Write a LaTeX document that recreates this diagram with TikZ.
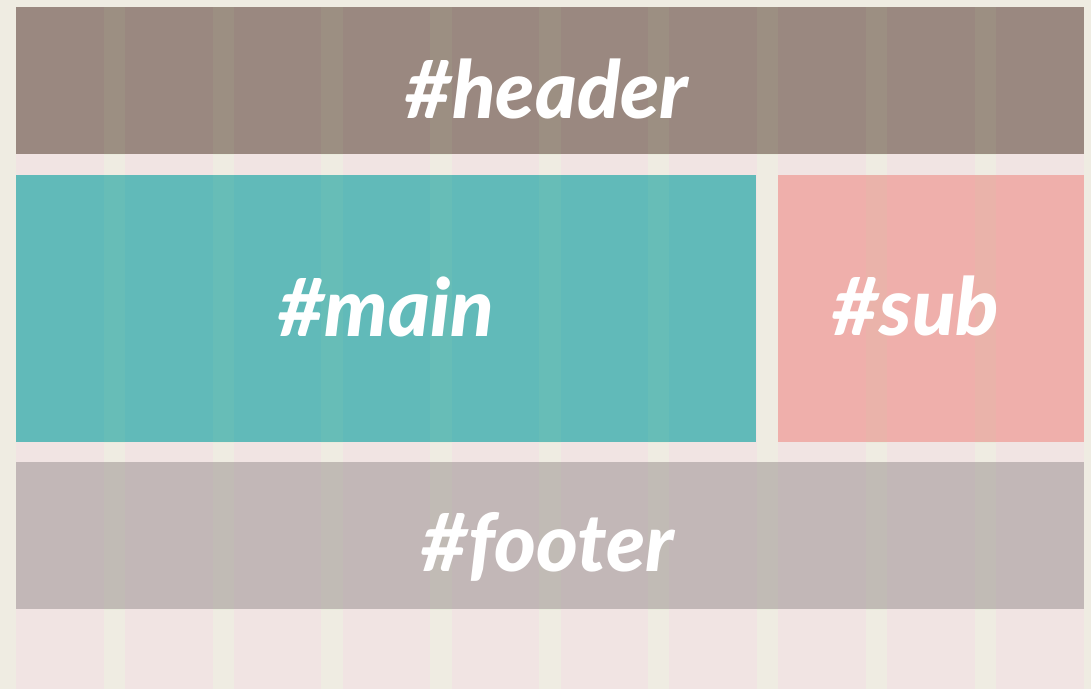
\documentclass[tikz,border=0pt]{standalone}
\usepackage{fontspec}
\setsansfont{Lato}[BoldItalicFont={Lato Black Italic}]
\usetikzlibrary{positioning}
\definecolor{cream}{RGB}{239,236,226}
\definecolor{blush}{RGB}{241,228,227}
\definecolor{mocha}{RGB}{154,136,128}
\definecolor{mainteal}{RGB}{97,186,185}
\definecolor{subpink}{RGB}{239,175,171}
\definecolor{greige}{RGB}{194,183,183}
\definecolor{tint}{RGB}{185,235,165}
\newcommand{\colw}{87.6}
\newcommand{\colp}{108.9}

\begin{document}
\begin{tikzpicture}[x=1pt, y=-1pt,
  area/.style={draw=none, inner sep=0pt, outer sep=0pt, anchor=north west},
  tag/.style={text=white, anchor=base, inner sep=0pt,
    font=\sffamily\bfseries\itshape\fontsize{80}{84}\selectfont}]
  % page and grid columns
  \fill[cream] (0,0) rectangle (1091,689);
  \useasboundingbox (0,0) rectangle (1091,689);
  \foreach \k in {0,...,9}
    \fill[blush] ({16+\colp*\k},7) rectangle ({16+\colp*\k+\colw},689);
  % layout areas
  \node[area, fill=mocha, minimum width=1068pt, minimum height=147pt] (header) at (16,7) {};
  \node[area, fill=mainteal, minimum width=740pt, minimum height=267pt] (main) at (16,175) {};
  \node[area, fill=subpink, minimum width=306pt, minimum height=267pt] (sub) at (778,175) {};
  \node[area, fill=greige, minimum width=1068pt, minimum height=147pt] (footer) at (16,462) {};
  % gutters showing through
  \foreach \b in {header,main,sub,footer}{
    \begin{scope}
      \clip (\b.north west) rectangle (\b.south east);
      \foreach \k in {0,...,8}
        \fill[tint, opacity=.08] ({16+\colp*\k+\colw},0) rectangle ({16+\colp*(\k+1)},689);
    \end{scope}
  }
  % labels
  \node[tag] (headertag) at (547,118) {\#header};
  \node[tag] (maintag) at (386,336) {\#main};
  \node[tag] (subtag) at (916,335) {\#sub};
  \node[tag] (footertag) at (548,571) {\#footer};
\end{tikzpicture}
\end{document}
